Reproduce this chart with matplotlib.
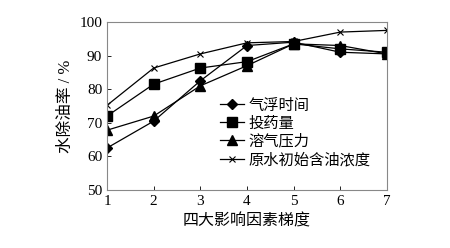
import matplotlib
matplotlib.use('Agg')
import matplotlib.pyplot as plt

plt.rcParams['font.family'] = ['Liberation Serif', 'Noto Sans CJK SC']

# gradient levels of the four factors
levels = [1, 2, 3, 4, 5, 6, 7]

# oil removal rate (%) for each factor
flotation_time = [62.5, 70.5, 82.5, 93.0, 94.0, 91.0, 90.5]
dosage = [72.0, 81.5, 86.3, 88.2, 93.5, 92.0, 91.0]
air_pressure = [67.8, 72.0, 81.0, 87.0, 93.5, 93.0, 90.5]
initial_oil = [75.2, 86.3, 90.5, 93.8, 94.2, 97.0, 97.5]

labels = ['气浮时间', '投药量', '溶气压力', '原水初始含油浓度']

fig = plt.figure(figsize=(4.5, 2.48), dpi=100)
ax = fig.add_axes([107 / 450, 1 - 190 / 248, 280 / 450, 168 / 248])

ax.plot(levels, flotation_time, color='black', lw=0.9, marker='D', ms=5.5, label=labels[0])
ax.plot(levels, dosage, color='black', lw=0.9, marker='s', ms=6.5, label=labels[1])
ax.plot(levels, air_pressure, color='black', lw=0.9, marker='^', ms=6.5, label=labels[2])
ax.plot(levels, initial_oil, color='black', lw=0.9, marker='x', ms=5, mew=0.8, label=labels[3])

ax.set_xlim(1, 7)
ax.set_ylim(50, 100)
ax.set_xticks(levels)
ax.set_yticks([50, 60, 70, 80, 90, 100])
ax.tick_params(direction='in', length=3, width=0.6, labelsize=11, colors='black')
for s in ax.spines.values():
    s.set_color('#888888')
    s.set_linewidth(0.8)

ax.set_xlabel('四大影响因素梯度', fontsize=11.5, labelpad=4)
ax.set_ylabel('水除油率 / %', fontsize=12, labelpad=4)

ax.legend(loc='upper left', bbox_to_anchor=(0.38, 0.58), frameon=False, fontsize=11,
          handlelength=1.6, handletextpad=0.3, labelspacing=0.24, borderaxespad=0)

fig.savefig('out.png', dpi=100)
